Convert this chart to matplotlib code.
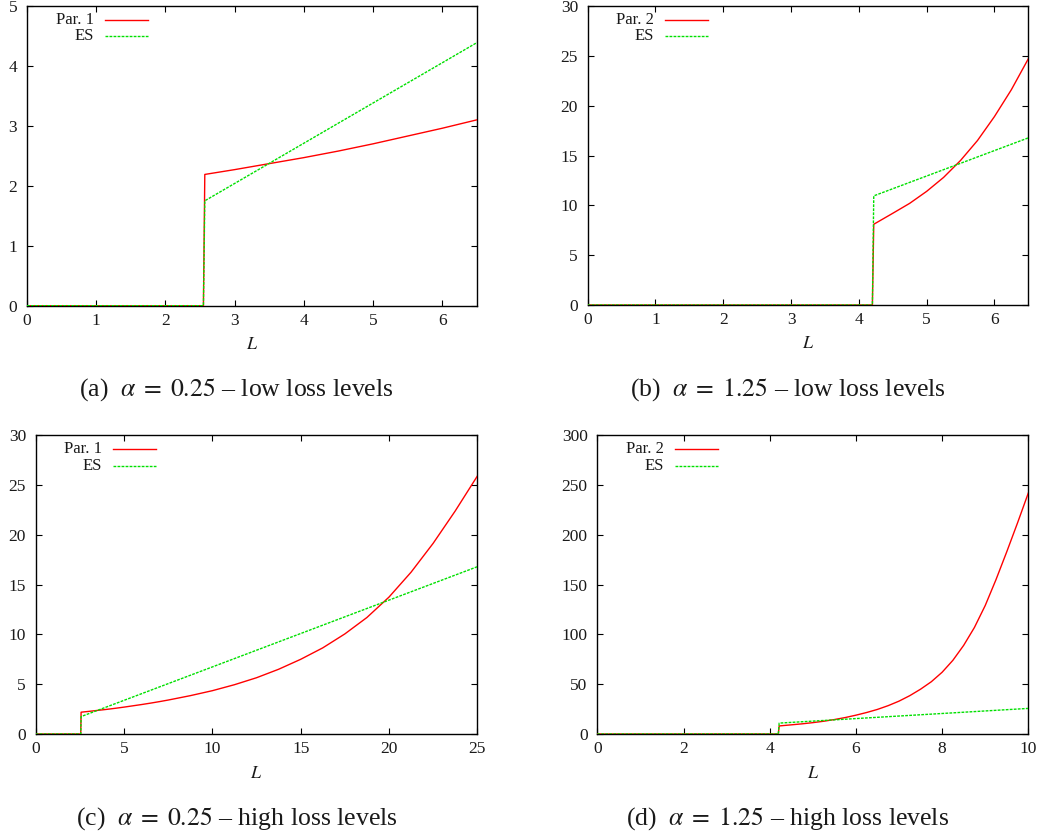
import matplotlib
matplotlib.use("Agg")
import matplotlib.pyplot as plt
from matplotlib.ticker import MultipleLocator

plt.rcParams["font.family"] = ["Liberation Serif", "DejaVu Serif"]
plt.rcParams["mathtext.fontset"] = "stix"

# ---- data -----------------------------------------------------------------
# Par. 1 (alpha = 0.25): zero until the threshold, then a convex increase
par1_L = [0.0, 2.55, 2.57, 3.0, 3.5, 4.0, 4.5, 5.0, 5.5, 6.0, 6.5, 7.0, 7.5,
          8.75, 10.0, 11.25, 12.5, 13.75, 15.0, 16.25, 17.5, 18.75, 20.0,
          21.25, 22.5, 23.75, 25.0]
par1_v = [0.0, 0.0, 2.19, 2.27, 2.37, 2.47, 2.58, 2.70, 2.83, 2.96, 3.10, 3.25,
          3.41, 3.85, 4.35, 4.95, 5.65, 6.50, 7.50, 8.65, 10.05, 11.70, 13.75,
          16.25, 19.15, 22.40, 25.90]
# ES (alpha = 0.25): zero, then linear
es1_L = [0.0, 2.55, 2.57, 25.0]
es1_v = [0.0, 0.0, 1.75, 16.80]

# Par. 2 (alpha = 1.25)
par2_L = [0.0, 4.20, 4.22, 4.5, 4.75, 5.0, 5.25, 5.5, 5.75, 6.0, 6.25, 6.5,
          6.75, 7.0, 7.25, 7.5, 7.75, 8.0, 8.25, 8.5, 8.75, 9.0, 9.25, 9.5,
          9.75, 10.0]
par2_v = [0.0, 0.0, 8.1, 9.2, 10.2, 11.4, 12.8, 14.5, 16.5, 18.9, 21.6, 24.7,
          28.5, 33.0, 38.5, 45.0, 52.5, 62.0, 74.0, 89.0, 107.0, 129.0, 155.0,
          183.0, 212.0, 242.0]
# ES (alpha = 1.25)
es2_L = [0.0, 4.20, 4.22, 10.0]
es2_v = [0.0, 0.0, 10.95, 25.70]

panels = [
    # key, rect(px: left, top, right, bottom), series, key label,
    # xmax, xstep, ymax, ystep, caption, caption centre/baseline (px)
    ("a", (27.0, 6.0, 476.7, 305.7), (par1_L, par1_v, es1_L, es1_v), "Par. 1",
     6.5, 1, 5, 1, r"(a)  $\alpha\;=\;0.25$ – low loss levels", 236.5, 396.0),
    ("b", (587.7, 6.0, 1028.3, 305.0), (par2_L, par2_v, es2_L, es2_v), "Par. 2",
     6.5, 1, 30, 5, r"(b)  $\alpha\;=\;1.25$ – low loss levels", 788.3, 396.0),
    ("c", (35.7, 435.3, 477.3, 734.0), (par1_L, par1_v, es1_L, es1_v), "Par. 1",
     25, 5, 30, 5, r"(c)  $\alpha\;=\;0.25$ – high loss levels", 236.7, 824.3),
    ("d", (597.3, 435.3, 1028.3, 734.0), (par2_L, par2_v, es2_L, es2_v), "Par. 2",
     10, 2, 300, 50, r"(d)  $\alpha\;=\;1.25$ – high loss levels", 787.8, 824.3),
]

W, H = 1040, 836
fig = plt.figure(figsize=(W / 100, H / 100), dpi=100)

RED = "#ff0000"
GREEN = "#00e000"
TXT = "#1a1a1a"
ES_DASH = (2.0, 0.9)

for key, (l, t, r, b), (pL, pv, eL, ev), pname, xmax, xstep, ymax, ystep, cap, cx, cy in panels:
    ax = fig.add_axes([l / W, 1 - b / H, (r - l) / W, (b - t) / H])
    ax.plot(pL, pv, color=RED, lw=1.0, zorder=3)
    ax.plot(eL, ev, color=GREEN, lw=1.0, dashes=ES_DASH, zorder=3)
    ax.set_xlim(0, xmax)
    ax.set_ylim(0, ymax)
    ax.xaxis.set_major_locator(MultipleLocator(xstep))
    ax.yaxis.set_major_locator(MultipleLocator(ystep))
    ax.tick_params(direction="in", length=4, width=0.8, top=True, right=True,
                   labelsize=12.5, colors="black", labelcolor=TXT)
    ax.tick_params(axis="x", pad=5)
    ax.tick_params(axis="y", pad=7)
    for s in ax.spines.values():
        s.set_linewidth(1.0)
        s.set_color("black")
        s.set_zorder(2)

    # x-axis label
    ax.set_xlabel("$L$", fontsize=13, color=TXT)
    ax.xaxis.set_label_coords(0.5, -(39.0 / (b - t)))
    ax.xaxis.label.set_va("center")

    # key in the upper-left corner: label right-aligned, line sample after it
    aw, ah = r - l, b - t
    for row, (name, color, dash) in enumerate([(pname, RED, None), ("ES", GREEN, ES_DASH)]):
        yy = 1 - (13.7 + 16.5 * row) / ah
        ax.text(66.5 / aw, yy, name, transform=ax.transAxes, ha="right", va="center",
                fontsize=12, color=TXT)
        kw = dict(color=color, lw=1.0, transform=ax.transAxes, clip_on=False)
        if dash:
            kw["dashes"] = dash
        ax.plot([77.5 / aw, 120.5 / aw], [yy, yy], **kw)

    fig.text(cx / W, 1 - cy / H, cap, ha="center", va="baseline", fontsize=18.5, color=TXT)

fig.savefig("out.png", dpi=100)
